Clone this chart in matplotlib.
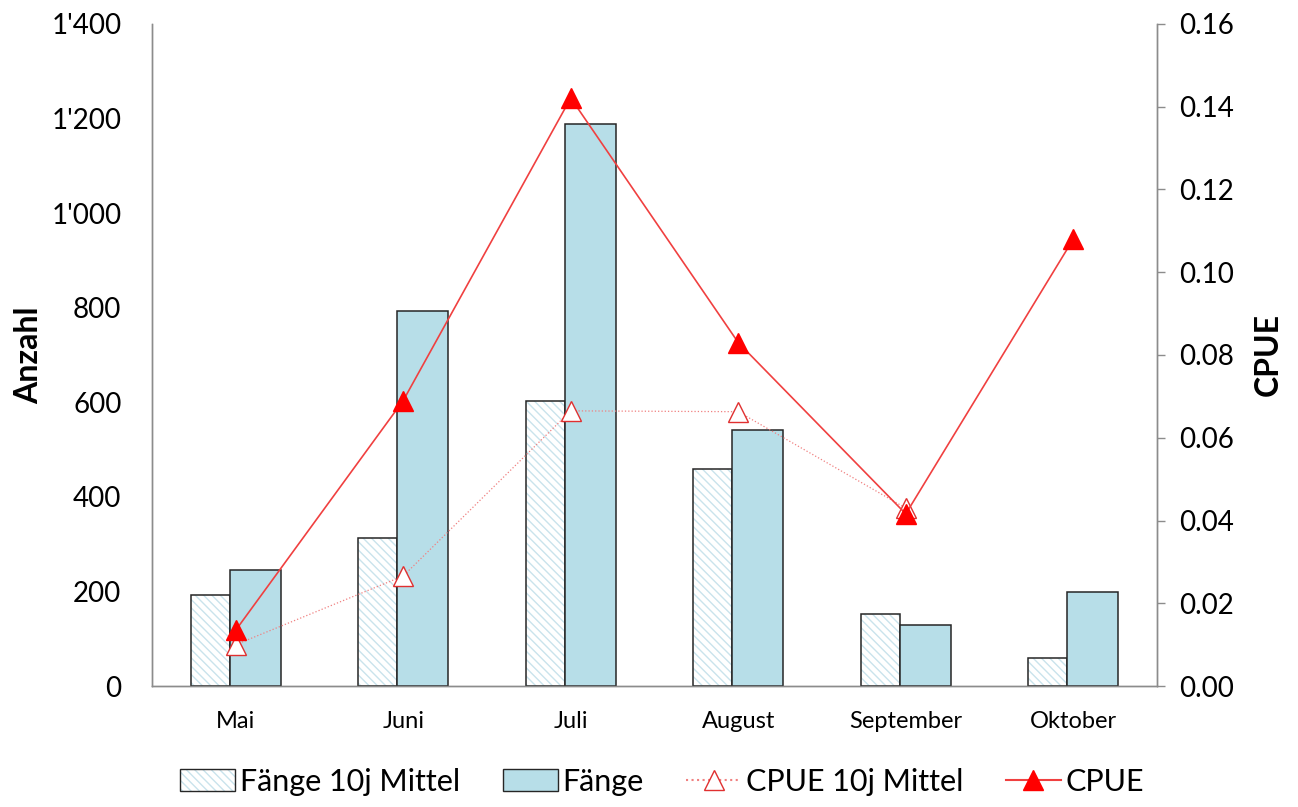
import numpy as np
import matplotlib.pyplot as plt
from matplotlib.ticker import FuncFormatter
from matplotlib.patches import Patch
from matplotlib.lines import Line2D

plt.rcParams['font.family'] = ['Lato', 'DejaVu Sans']

months = ['Mai', 'Juni', 'Juli', 'August', 'September', 'Oktober']
faenge_10j = [192, 313, 603, 459, 152, 59]
faenge = [245, 793, 1188, 541, 129, 199]
cpue_10j = [0.0100, 0.0266, 0.0665, 0.0663, 0.0430, np.nan]
cpue = [0.0135, 0.0690, 0.1421, 0.0830, 0.0416, 0.1080]

bar_blue = '#B7DEE8'
hatch_blue = '#C9E3EC'
edge_dark = '#262626'
axis_gray = '#8C8C8C'
red = '#FF0000'

x = np.arange(len(months))

fig = plt.figure(figsize=(12.98, 8.07), dpi=100)
ax = fig.add_axes([0.1171, 0.1499, 0.7743, 0.8204])
ax2 = ax.twinx()

# 10-year mean bars: hatch layer first, outline on top
w_mean, w_cur = 0.233, 0.304
ax.bar(x - 0.269, faenge_10j, width=w_mean, align='edge', color='white',
       edgecolor=hatch_blue, hatch='\\\\\\\\', linewidth=0, zorder=2)
ax.bar(x - 0.269, faenge_10j, width=w_mean, align='edge', color='none',
       edgecolor=edge_dark, linewidth=1.1, zorder=3)
ax.bar(x - 0.036, faenge, width=w_cur, align='edge', color=bar_blue,
       edgecolor=edge_dark, linewidth=1.1, zorder=3)

ax2.plot(x, cpue_10j, linestyle=':', color='#F08080', linewidth=0.9,
         marker='^', markersize=15, markerfacecolor='white',
         markeredgecolor='#E03030', markeredgewidth=1.0, zorder=4)
ax2.plot(x, cpue, linestyle='-', color='#F04040', linewidth=1.2,
         marker='^', markersize=15, markerfacecolor=red,
         markeredgecolor=red, zorder=5)

ax.set_xlim(-0.5, len(months) - 0.5)
ax.set_ylim(0, 1400)
ax2.set_ylim(0, 0.16)
ax.set_yticks(range(0, 1401, 200))
ax2.set_yticks(np.arange(0, 0.161, 0.02))
ax.yaxis.set_major_formatter(FuncFormatter(lambda v, p: f'{int(v):,}'.replace(',', "'")))
ax2.yaxis.set_major_formatter(FuncFormatter(lambda v, p: f'{v:.2f}'))

ax.set_xticks(x)
ax.set_xticklabels(months, fontsize=17)
ax.tick_params(axis='x', length=0, pad=18)
ax.tick_params(axis='y', length=0, labelsize=20, pad=22)
ax2.tick_params(axis='y', length=6, width=1, color=axis_gray, labelsize=20, pad=10)

for a in (ax, ax2):
    a.spines['top'].set_visible(False)
    for s in ('left', 'right', 'bottom'):
        a.spines[s].set_color(axis_gray)
        a.spines[s].set_linewidth(1.0)

ax.set_ylabel('Anzahl', fontsize=23, fontweight='bold', labelpad=6)
ax2.set_ylabel('CPUE', fontsize=23, fontweight='bold', labelpad=14)

# legend handles
hatch_handle = (Patch(facecolor='white', edgecolor=hatch_blue, hatch='\\\\\\\\', linewidth=0),
                Patch(facecolor='none', edgecolor=edge_dark, linewidth=1.0))
handles = [
    hatch_handle,
    Patch(facecolor=bar_blue, edgecolor=edge_dark, linewidth=1.0),
    Line2D([], [], linestyle=':', color='#F08080', marker='^', markersize=15,
           markerfacecolor='white', markeredgecolor='#E03030'),
    Line2D([], [], linestyle='-', color='#F04040', marker='^', markersize=15,
           markerfacecolor=red, markeredgecolor=red),
]
labels = ['Fänge 10j Mittel', 'Fänge', 'CPUE 10j Mittel', 'CPUE']
fig.legend(handles, labels, loc='lower center', bbox_to_anchor=(0.51, -0.02),
           ncol=4, frameon=False, fontsize=22, handlelength=1.8,
           handletextpad=0.15, columnspacing=1.4)

fig.savefig('out.png', dpi=100)
